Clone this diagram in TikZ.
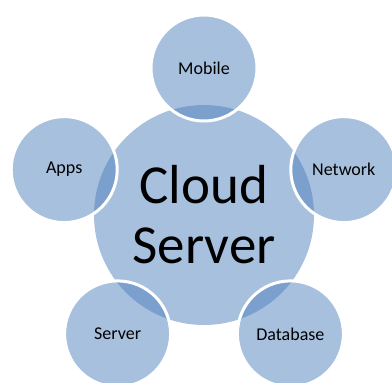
\documentclass[tikz,border=0pt]{standalone}
\usepackage{fontspec}
\setmainfont{Carlito}
\definecolor{lightb}{HTML}{A7C0DE}
\definecolor{darkb}{HTML}{7BA0CD}
\tikzset{
  hub/.style={circle, fill=lightb, minimum size=220pt, inner sep=0pt, align=center, font=\fontsize{55}{60}\selectfont},
  sat/.style={circle, minimum size=106pt, inner sep=0pt, font=\fontsize{18}{21}\selectfont},
  satrim/.style={draw=white, line width=3pt}
}
\begin{document}
\begin{tikzpicture}[x=1pt,y=-1pt]
\useasboundingbox (0,0) rectangle (392,383);
\clip (0,0) rectangle (392,383);
\coordinate (c) at (204,215);
\fill[lightb] (c) circle (110);
\foreach \p in {(204,68),(343.8,169.6),(290.4,333.9),(117.6,333.9),(64.2,169.6)}{
  \fill[lightb] \p circle (53);
  \begin{scope}
    \clip \p circle (53);
    \fill[darkb] (c) circle (110);
  \end{scope}
  \draw[satrim] \p circle (53);
}
\node[hub, fill=none] (center) at (c) {Cloud\\Server};
\node[sat] (mobile) at (204,68) {Mobile};
\node[sat] (network) at (343.8,169.6) {Network};
\node[sat] (database) at (290.4,333.9) {Database};
\node[sat] (server) at (117.6,333.9) {Server};
\node[sat] (apps) at (64.2,169.6) {Apps};
\end{tikzpicture}
\end{document}
